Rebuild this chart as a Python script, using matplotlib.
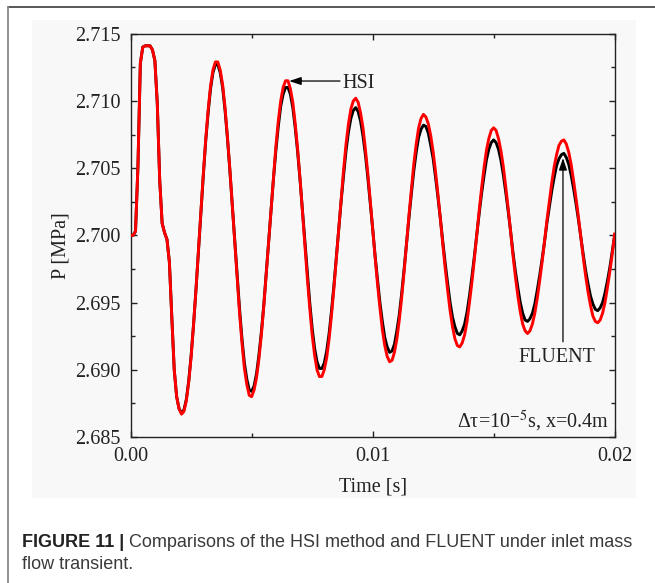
import numpy as np
import matplotlib
matplotlib.use("Agg")
import matplotlib.pyplot as plt
from matplotlib.lines import Line2D
from matplotlib.patches import Rectangle
from matplotlib.ticker import MultipleLocator, FormatStrFormatter

plt.rcParams["font.family"] = "Liberation Serif"
plt.rcParams["mathtext.fontset"] = "stix"

# inlet pressure sampled every 0.1 ms, 0 .. 20 ms
dt = 0.0001

p_hsi = [
    2.7000, 2.7000, 2.7003, 2.7051, 2.7128, 2.7140, 2.7141, 2.7141, 2.7141, 2.7138,
    2.7130, 2.7098, 2.7041, 2.7009, 2.7002, 2.6997, 2.6980, 2.6939, 2.6900, 2.6880,
    2.6871, 2.6867, 2.6869, 2.6877, 2.6891, 2.6910, 2.6934, 2.6960, 2.6989, 2.7017,
    2.7045, 2.7071, 2.7093, 2.7111, 2.7123, 2.7129, 2.7129, 2.7123, 2.7112, 2.7095,
    2.7073, 2.7049, 2.7022, 2.6994, 2.6967, 2.6942, 2.6920, 2.6901, 2.6889, 2.6881,
    2.6880, 2.6885, 2.6894, 2.6908, 2.6926, 2.6947, 2.6971, 2.6995, 2.7020, 2.7044,
    2.7066, 2.7085, 2.7100, 2.7110, 2.7115, 2.7115, 2.7109, 2.7099, 2.7083, 2.7064,
    2.7042, 2.7017, 2.6992, 2.6968, 2.6946, 2.6926, 2.6911, 2.6900, 2.6895, 2.6895,
    2.6900, 2.6909, 2.6923, 2.6941, 2.6961, 2.6983, 2.7006, 2.7028, 2.7049, 2.7068,
    2.7083, 2.7094, 2.7100, 2.7102, 2.7099, 2.7091, 2.7080, 2.7064, 2.7046, 2.7026,
    2.7005, 2.6984, 2.6964, 2.6946, 2.6930, 2.6918, 2.6910, 2.6906, 2.6907, 2.6913,
    2.6923, 2.6937, 2.6954, 2.6973, 2.6994, 2.7015, 2.7034, 2.7053, 2.7068, 2.7080,
    2.7087, 2.7090, 2.7088, 2.7083, 2.7074, 2.7062, 2.7047, 2.7030, 2.7012, 2.6993,
    2.6975, 2.6959, 2.6944, 2.6932, 2.6923, 2.6918, 2.6917, 2.6920, 2.6926, 2.6936,
    2.6950, 2.6965, 2.6982, 2.7000, 2.7018, 2.7035, 2.7050, 2.7063, 2.7072, 2.7078,
    2.7080, 2.7078, 2.7072, 2.7063, 2.7051, 2.7036, 2.7020, 2.7003, 2.6985, 2.6969,
    2.6955, 2.6943, 2.6934, 2.6929, 2.6927, 2.6929, 2.6934, 2.6942, 2.6953, 2.6966,
    2.6980, 2.6995, 2.7011, 2.7025, 2.7039, 2.7051, 2.7060, 2.7067, 2.7070, 2.7071,
    2.7068, 2.7062, 2.7053, 2.7041, 2.7028, 2.7014, 2.6999, 2.6984, 2.6970, 2.6958,
    2.6948, 2.6940, 2.6936, 2.6935, 2.6937, 2.6942, 2.6950, 2.6961, 2.6973, 2.6986,
    2.7001,
]

p_fluent = [
    2.7000, 2.7000, 2.7003, 2.7051, 2.7128, 2.7140, 2.7141, 2.7141, 2.7141, 2.7138,
    2.7130, 2.7098, 2.7041, 2.7009, 2.7002, 2.6997, 2.6980, 2.6939, 2.6900, 2.6880,
    2.6871, 2.6868, 2.6870, 2.6878, 2.6892, 2.6911, 2.6934, 2.6960, 2.6988, 2.7016,
    2.7044, 2.7070, 2.7091, 2.7109, 2.7121, 2.7127, 2.7127, 2.7121, 2.7110, 2.7093,
    2.7072, 2.7048, 2.7022, 2.6995, 2.6969, 2.6945, 2.6923, 2.6905, 2.6893, 2.6885,
    2.6884, 2.6888, 2.6897, 2.6911, 2.6928, 2.6948, 2.6971, 2.6995, 2.7019, 2.7042,
    2.7063, 2.7081, 2.7096, 2.7105, 2.7110, 2.7110, 2.7105, 2.7095, 2.7080, 2.7062,
    2.7041, 2.7018, 2.6994, 2.6971, 2.6950, 2.6931, 2.6916, 2.6906, 2.6901, 2.6901,
    2.6905, 2.6914, 2.6927, 2.6944, 2.6963, 2.6984, 2.7005, 2.7026, 2.7045, 2.7063,
    2.7077, 2.7087, 2.7093, 2.7095, 2.7092, 2.7085, 2.7074, 2.7060, 2.7043, 2.7024,
    2.7005, 2.6985, 2.6967, 2.6950, 2.6936, 2.6924, 2.6917, 2.6913, 2.6914, 2.6919,
    2.6929, 2.6941, 2.6957, 2.6975, 2.6994, 2.7013, 2.7031, 2.7048, 2.7062, 2.7073,
    2.7079, 2.7082, 2.7081, 2.7076, 2.7067, 2.7057, 2.7043, 2.7028, 2.7012, 2.6995,
    2.6979, 2.6964, 2.6950, 2.6939, 2.6932, 2.6927, 2.6926, 2.6929, 2.6934, 2.6943,
    2.6955, 2.6969, 2.6984, 2.7000, 2.7016, 2.7031, 2.7044, 2.7056, 2.7064, 2.7069,
    2.7071, 2.7069, 2.7064, 2.7056, 2.7045, 2.7032, 2.7018, 2.7003, 2.6987, 2.6973,
    2.6961, 2.6950, 2.6942, 2.6937, 2.6936, 2.6938, 2.6942, 2.6949, 2.6959, 2.6970,
    2.6982, 2.6995, 2.7009, 2.7021, 2.7033, 2.7043, 2.7052, 2.7057, 2.7060, 2.7061,
    2.7058, 2.7053, 2.7045, 2.7035, 2.7024, 2.7012, 2.6999, 2.6986, 2.6974, 2.6964,
    2.6955, 2.6949, 2.6945, 2.6944, 2.6946, 2.6950, 2.6957, 2.6966, 2.6976, 2.6988,
    2.7000,
]

time = np.arange(len(p_hsi)) * dt

fig = plt.figure(figsize=(6.55, 5.83), dpi=100)

# page frame and light panel behind the chart
fig.add_artist(Line2D([0.0122, 1.0], [0.9875, 0.9875], color="#2a2a2a", lw=1.1))
fig.add_artist(Line2D([0.0122, 0.0122], [0.0, 0.9875], color="#8a8a8a", lw=1.3))
fig.add_artist(Rectangle((0.0484, 0.1463), 0.9221, 0.8194, transform=fig.transFigure,
                         facecolor="#f8f8f8", edgecolor="none", zorder=0))

ax = fig.add_axes([0.1995, 0.2504, 0.7389, 0.6918])
ax.set_facecolor("none")

ax.plot(time, p_fluent, color="black", lw=2.1, zorder=3)
ax.plot(time, p_hsi, color="#ff0000", lw=2.1, zorder=4)

ax.set_xlim(0, 0.02)
ax.set_ylim(2.685, 2.715)
ax.xaxis.set_major_locator(MultipleLocator(0.01))
ax.xaxis.set_minor_locator(MultipleLocator(0.005))
ax.yaxis.set_major_locator(MultipleLocator(0.005))
ax.yaxis.set_minor_locator(MultipleLocator(0.0025))
ax.xaxis.set_major_formatter(FormatStrFormatter("%.2f"))
ax.yaxis.set_major_formatter(FormatStrFormatter("%.3f"))
ax.tick_params(which="both", direction="in", top=True, right=True, width=1.0,
               labelsize=14.5, colors="#222222")
ax.tick_params(which="major", length=4.5, pad=7.5)
ax.tick_params(which="minor", length=3.0)
for s in ax.spines.values():
    s.set_linewidth(1.0)
    s.set_color("#222222")

ax.set_xlabel("Time [s]", fontsize=14.5, color="#222222")
ax.set_ylabel("P [MPa]", fontsize=14.5, color="#222222")
ax.xaxis.label.set_va("center")
ax.yaxis.label.set_va("center")
ax.xaxis.set_label_coords(0.5, -0.124)
ax.yaxis.set_label_coords(-0.143, 0.475)

arrow = dict(arrowstyle="-|>,head_length=0.6,head_width=0.2", color="black",
             lw=0.9, shrinkA=0, shrinkB=0, mutation_scale=12)
ax.annotate("", xy=(0.00655, 2.71148), xytext=(0.00865, 2.71148), arrowprops=arrow, zorder=5)
ax.text(0.00877, 2.71133, "HSI", fontsize=14.5, ha="left", va="center", color="#222222")
ax.annotate("", xy=(0.017864, 2.70575), xytext=(0.017864, 2.69208), arrowprops=arrow, zorder=5)
ax.text(0.017595, 2.69091, "FLUENT", fontsize=14.5, ha="center", va="center", color="#222222")
ax.text(0.019764, 2.68566, "Δτ=10$^{-5}$s, x=0.4m", fontsize=14.5,
        ha="right", va="baseline", color="#222222")

# caption: bold lead-in followed by regular text
cap_font = "Liberation Sans"
head = fig.text(0.0336, 0.0626, "FIGURE 11 |", fontsize=13, fontweight="bold",
                family=cap_font, color="#222222", va="baseline")
fig.canvas.draw()
bb = head.get_window_extent()
fig.text(bb.x1 / fig.bbox.width, 0.0626,
         " Comparisons of the HSI method and FLUENT under inlet mass",
         fontsize=13, family=cap_font, color="#3a3a3a", va="baseline")
fig.text(0.0336, 0.0245, "flow transient.", fontsize=13, family=cap_font,
         color="#3a3a3a", va="baseline")

fig.savefig("out.png", dpi=100)
